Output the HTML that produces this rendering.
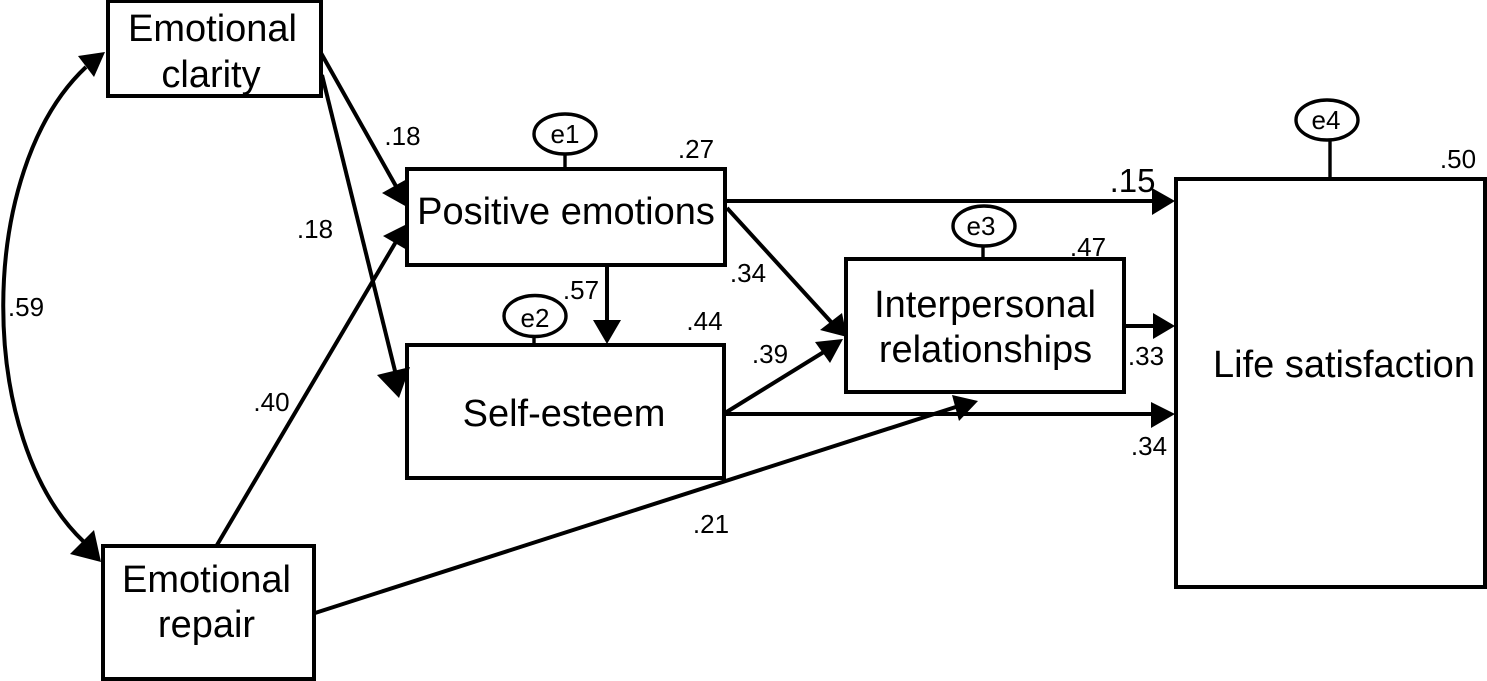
<!DOCTYPE html>
<html>
<head>
<meta charset="utf-8">
<style>
html,body{margin:0;padding:0;background:#fff;}
svg{display:block;}
text{font-family:"Liberation Sans",Arial,sans-serif;fill:#000;}
.b{font-size:38px;text-anchor:middle;}
.s{font-size:26px;text-anchor:middle;}
</style>
</head>
<body>
<svg width="1487" height="681" viewBox="0 0 1487 681" xmlns="http://www.w3.org/2000/svg">
<g fill="none" stroke="#000" stroke-width="4">
<path d="M86 67C-24 170 -24 440 84 542"/>
<path d="M321 53L397 188"/>
<path d="M322 75L396 375"/>
<path d="M217 545L397 240"/>
<path d="M607 265V325"/>
<path d="M725 201H1155"/>
<path d="M727 208L832 323"/>
<path d="M725 413L827 350"/>
<path d="M724 414H1155"/>
<path d="M1124 326H1155"/>
<path d="M315 613L962 405"/>
</g>
<g fill="#000">
<polygon points="407,179 382,193 407,207"/>
<polygon points="407,224 383,236 407,250"/>
<polygon points="607,344 593,320 621,320"/>
<polygon points="1175,201 1152,188 1152,215"/>
<polygon points="847,337 820,330 842,313"/>
<polygon points="843,339 815,342 830,363"/>
<polygon points="1175,414 1151,402 1151,428"/>
<polygon points="1175,326 1153,313 1153,339"/>
<polygon points="978,401 952,395 959,421"/>
<polygon points="105,52 78,56 94,77"/>
<polygon points="101,562 70,554 94,530"/>
</g>
<g fill="#fff" stroke="#000" stroke-width="4">
<rect x="108" y="1" width="213" height="95"/>
<rect x="407" y="169" width="318" height="96"/>
<rect x="407" y="345" width="317" height="133"/>
<rect x="846" y="259" width="278" height="133"/>
<rect x="1176" y="179" width="309" height="408"/>
<rect x="103" y="546" width="211" height="133"/>
</g>
<polygon points="410,367 377,375 399,398" fill="#000"/>
<g fill="none" stroke="#000" stroke-width="3.4">
<ellipse cx="565" cy="134" rx="31" ry="20"/>
<ellipse cx="535" cy="316" rx="31" ry="20.500"/>
<ellipse cx="984" cy="226" rx="31" ry="20"/>
<ellipse cx="1327" cy="120" rx="31" ry="20"/>
<path d="M565 154V169M534 337V345M983 246V259M1330 140V179"/>
</g>
<text class="b" x="212.500" y="41">Emotional</text>
<text class="b" x="211" y="87">clarity</text>
<text class="b" x="566" y="224">Positive emotions</text>
<text class="b" x="564" y="426">Self-esteem</text>
<text class="b" x="985" y="317">Interpersonal</text>
<text class="b" x="985.500" y="362">relationships</text>
<text class="b" x="1344" y="377">Life satisfaction</text>
<text class="b" x="206.500" y="592">Emotional</text>
<text class="b" x="206.500" y="637">repair</text>
<text class="s" x="565" y="143">e1</text>
<text class="s" x="535" y="327">e2</text>
<text class="s" x="981" y="235">e3</text>
<text class="s" x="1326" y="129">e4</text>
<text class="s" x="402.500" y="145">.18</text>
<text class="s" x="315" y="238">.18</text>
<text class="s" x="26" y="316">.59</text>
<text class="s" x="271.500" y="411">.40</text>
<text class="s" x="581" y="299">.57</text>
<text class="s" x="696" y="158">.27</text>
<text class="s" x="704.500" y="330">.44</text>
<text class="s" x="748" y="282">.34</text>
<text class="s" x="770" y="363">.39</text>
<text class="s" x="1088" y="256">.47</text>
<text class="s" x="1458" y="168">.50</text>
<text class="s" x="1146" y="365">.33</text>
<text class="s" x="1149" y="455">.34</text>
<text class="s" x="711" y="533">.21</text>
<text x="1132.500" y="192" style="font-size:33px;text-anchor:middle">.15</text>
</svg>
</body>
</html>
